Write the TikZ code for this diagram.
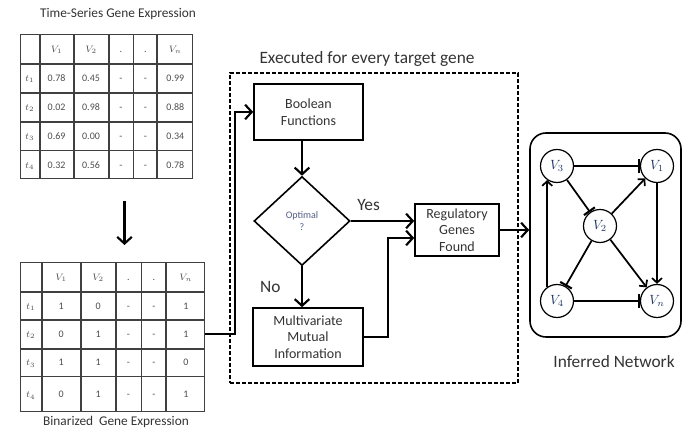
\documentclass[tikz,border=0pt]{standalone}
\usepackage{fontspec}
\setmainfont{Carlito}
\usepackage{xcolor}
\usepackage{amsmath}
\usepackage{tikz}
\usetikzlibrary{arrows.meta}
\usetikzlibrary{calc}
\usetikzlibrary{positioning}
\usetikzlibrary{matrix,shapes.geometric}

\definecolor{netblue}{RGB}{31,56,100}
\definecolor{optblue}{RGB}{80,92,135}

\tikzset{
  cell/.style={draw=black!75, line width=0.7pt, inner sep=0pt, outer sep=0pt,
    anchor=center, text height=1.4ex, text depth=0.3ex,
    minimum height=21pt, font=\fontsize{7.5}{9}\selectfont, text=black!70},
  tbl/.style={matrix of nodes, nodes in empty cells, nodes={cell},
    column sep=0pt, row sep=0pt, anchor=north west},
  box/.style={draw, line width=1.2pt, align=center, inner sep=2pt,
    font=\fontsize{10.5}{12.4}\selectfont, text=black!80},
  flow/.style={line width=1.6pt, -{Straight Barb[length=5pt,width=11pt]}},
  gene/.style={circle, draw, line width=0.9pt, minimum size=24.75pt, inner sep=0pt,
    font=\fontsize{10}{12}\selectfont, text=netblue},
  act/.style={line width=1.3pt, -{Straight Barb[length=3.5pt,width=7.5pt]}},
  inh/.style={line width=1.3pt, -{Bar[width=10pt,line width=1.6pt]}},
  caption/.style={font=\fontsize{13}{15}\selectfont, text=black!80},
  tabtitle/.style={font=\fontsize{10}{12}\selectfont, text=black!80}
}

\begin{document}
\begin{tikzpicture}[x=0.75pt, y=-0.75pt, node distance = 101.25pt and 75pt, on grid]
\useasboundingbox (0,0) rectangle (683,434);

% tables
\node[tabtitle] (rawtitle) at (118,14) {Time-Series Gene Expression};
\matrix (raw) [tbl,
  column 1/.style={nodes={minimum width=14.25pt}},
  column 2/.style={nodes={minimum width=24.75pt}},
  column 3/.style={nodes={minimum width=25.5pt}},
  column 4/.style={nodes={minimum width=18pt}},
  column 5/.style={nodes={minimum width=17.25pt}},
  column 6/.style={nodes={minimum width=26.25pt}},
  row 1/.style={nodes={minimum height=21.75pt}}] at (15,29) {
        & $V_1$ & $V_2$ & . & . & $V_n$ \\
  $t_1$ & 0.78  & 0.45  & - & - & 0.99  \\
  $t_2$ & 0.02  & 0.98  & - & - & 0.88  \\
  $t_3$ & 0.69  & 0.00  & - & - & 0.34  \\
  $t_4$ & 0.32  & 0.56  & - & - & 0.78  \\
};

\matrix (bin) [tbl,
  column 1/.style={nodes={minimum width=15.75pt}},
  column 2/.style={nodes={minimum width=28.5pt}},
  column 3/.style={nodes={minimum width=25.5pt}},
  column 4/.style={nodes={minimum width=18.75pt}},
  column 5/.style={nodes={minimum width=18pt}},
  column 6/.style={nodes={minimum width=28.5pt}},
  row 1/.style={nodes={minimum height=21.75pt}},
  row 2/.style={nodes={minimum height=20.25pt}},
  row 4/.style={nodes={minimum height=20.25pt}},
  row 5/.style={nodes={minimum height=26.25pt}}] at (15,257) {
        & $V_1$ & $V_2$ & . & . & $V_n$ \\
  $t_1$ & 1     & 0     & - & - & 1     \\
  $t_2$ & 0     & 1     & - & - & 1     \\
  $t_3$ & 1     & 1     & - & - & 0     \\
  $t_4$ & 0     & 1     & - & - & 1     \\
};
\node[tabtitle] (bintitle) at (116,422) {Binarized\ \ Gene Expression};

\draw[flow] ($(raw.south)+(18,17)$) -- ($(raw.south |- bin.north)+(18,-12)$);

% loop over target genes
\node[draw, line width=1.5pt, dash pattern=on 3pt off 1.5pt,
  minimum width=216pt, minimum height=232.5pt] (loop) at (374,228) {};
\node[caption] (looptitle) at (367,59) {Executed for every target gene};

\node[box, minimum width=81.75pt, minimum height=42pt] (bool) at (308.5,112) {Boolean\\Functions};
\node[diamond, draw, line width=1.2pt, minimum width=72pt, minimum height=66.75pt,
  inner sep=0pt, align=center, font=\fontsize{7.5}{9}\selectfont, text=optblue] (optimal) at (302,221) {Optimal\\?};
\node[box, minimum width=82.5pt, minimum height=43.5pt] (mmi) at (308,337) {Multivariate\\Mutual\\Information};
\node[box, minimum width=63pt, minimum height=39pt] (reg) at (457,230) {Regulatory\\Genes\\Found};

\draw[flow] (bin-3-6.east) -- ++(30,0) |- (bool.west);
\draw[flow] (optimal.north |- bool.south) -- (optimal.north);
\draw[flow] (optimal.east) -- node[caption, above=4pt, pos=0.28] {Yes} (optimal.east -| reg.west);
\draw[flow] (optimal.south) -- node[caption, left=12pt, pos=0.5] {No} (optimal.south |- mmi.north);
\draw[flow] (mmi.east) -- ++(24,0) |- ([yshift=-6pt]reg.west);

% inferred network
\node[draw, line width=1.2pt, rounded corners=12pt,
  minimum width=113.25pt, minimum height=153pt] (net) at (605.5,235) {};
\node[caption] (netlabel) at (614,362) {Inferred Network};
\draw[flow] (reg.east) -- (reg.east -| net.west);

\node[gene] (v3) at (557,166) {$V_3$};
\node[gene] (v1) [right=of v3] {$V_1$};
\node[gene] (v4) [below=of v3] {$V_4$};
\node[gene] (vn) [right=of v4] {$V_n$};
\node[gene] (v2) [below right=45pt and 32.25pt of v3] {$V_2$};

\path
    (v3) edge[inh] (v1)
    (v3) edge[inh] (v2)
    (v2) edge[act] (v1)
    (v2) edge[act] (vn)
    (v1) edge[act] (vn)
    (v2) edge[inh] (v4)
    (v4.125) edge[act] (v3.235)
    (v4) edge[inh] (vn)
    ;
\end{tikzpicture}
\end{document}
